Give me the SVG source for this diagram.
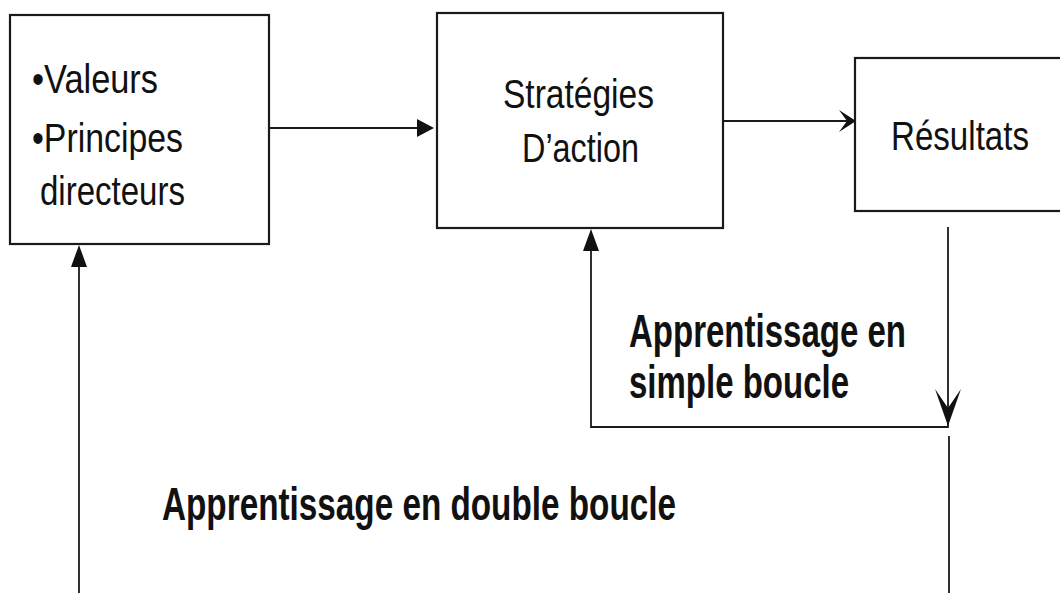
<svg xmlns="http://www.w3.org/2000/svg" width="1060" height="593" viewBox="0 0 1060 593">
  <style>
    .box { fill: #ffffff; stroke: #1a1a1a; stroke-width: 2.2; }
    .lbl { font-family: "Liberation Sans", Arial, sans-serif; fill: #111111; }
    .reg { font-size: 41px; }
    .bold { font-size: 47px; font-weight: bold; }
    .wire { fill: none; stroke: #1a1a1a; stroke-width: 1.8; }
    .head { fill: #111111; stroke: none; }
  </style>
  <rect width="1060" height="593" fill="#ffffff"/>

  <!-- Values / guiding principles -->
  <g id="node-valeurs">
    <rect class="box" x="10" y="15" width="259" height="229"/>
    <text class="lbl reg" x="32" y="93" textLength="126" lengthAdjust="spacingAndGlyphs">•Valeurs</text>
    <text class="lbl reg" x="32" y="152" textLength="151" lengthAdjust="spacingAndGlyphs">•Principes</text>
    <text class="lbl reg" x="40" y="205" textLength="145" lengthAdjust="spacingAndGlyphs">directeurs</text>
  </g>

  <!-- Action strategies -->
  <g id="node-strategies">
    <rect class="box" x="437" y="13" width="286" height="215"/>
    <text class="lbl reg" x="503" y="108" textLength="151" lengthAdjust="spacingAndGlyphs">Stratégies</text>
    <text class="lbl reg" x="522" y="162" textLength="117" lengthAdjust="spacingAndGlyphs">D’action</text>
  </g>

  <!-- Results -->
  <g id="node-resultats">
    <rect class="box" x="855" y="58" width="220" height="153"/>
    <text class="lbl reg" x="891" y="150" textLength="138" lengthAdjust="spacingAndGlyphs">Résultats</text>
  </g>

  <!-- Connectors -->
  <g id="connectors">
    <!-- values -> strategies -->
    <line class="wire" x1="269" y1="128" x2="420" y2="128"/>
    <path class="head" d="M434,128 L417,119 L417,137 Z"/>

    <!-- strategies -> results -->
    <line class="wire" x1="723" y1="121" x2="850" y2="121"/>
    <path class="head" d="M856,121 L839,110 L847,121 L839,132 Z"/>

    <!-- single loop: results back to strategies -->
    <polyline class="wire" points="948,227 948,427 591,427 591,246"/>
    <path class="head" d="M948,426 L935,389 L948,408 L961,389 Z"/>
    <path class="head" d="M591,229 L583,251 L599,251 Z"/>

    <!-- double loop: results back to values -->
    <line class="wire" x1="949" y1="436" x2="949" y2="593"/>
    <line class="wire" x1="79" y1="593" x2="79" y2="262"/>
    <path class="head" d="M79,245 L71,267 L87,267 Z"/>
  </g>

  <!-- Loop labels -->
  <g id="label-simple">
    <text class="lbl bold" x="629" y="347" textLength="277" lengthAdjust="spacingAndGlyphs">Apprentissage en</text>
    <text class="lbl bold" x="629" y="398" textLength="220" lengthAdjust="spacingAndGlyphs">simple boucle</text>
  </g>
  <g id="label-double">
    <text class="lbl bold" x="162" y="520" textLength="514" lengthAdjust="spacingAndGlyphs">Apprentissage en double boucle</text>
  </g>
</svg>
